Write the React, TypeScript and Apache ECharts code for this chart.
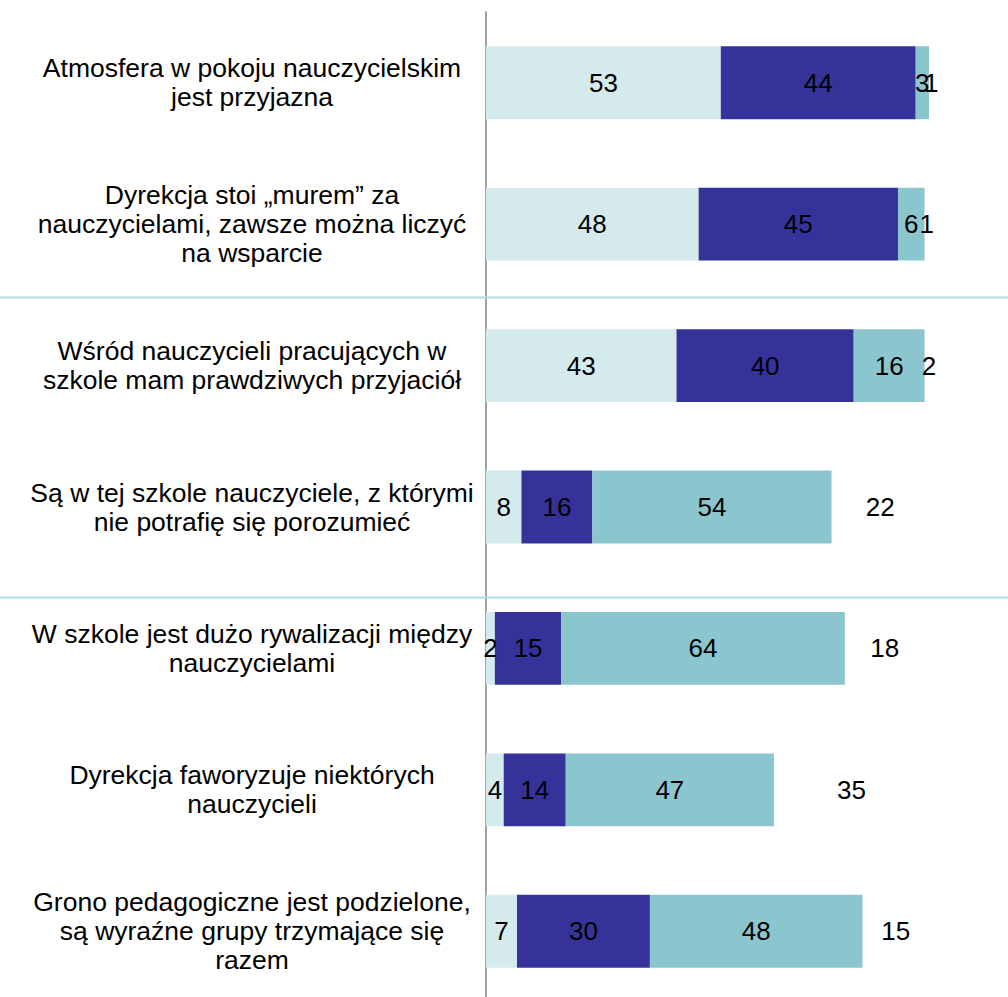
import React, { useEffect, useRef } from "react";
import * as echarts from "echarts";

const categories = [
  "Atmosfera w pokoju nauczycielskim\njest przyjazna",
  "Dyrekcja stoi „murem” za\nnauczycielami, zawsze można liczyć\nna wsparcie",
  "Wśród nauczycieli pracujących w\nszkole mam prawdziwych przyjaciół",
  "Są w tej szkole nauczyciele, z którymi\nnie potrafię się porozumieć",
  "W szkole jest dużo rywalizacji między\nnauczycielami",
  "Dyrekcja faworyzuje niektórych\nnauczycieli",
  "Grono pedagogiczne jest podzielone,\nsą wyraźne grupy trzymające się\nrazem",
];

const seriesNames = ["Zdecydowanie tak", "Raczej tak", "Raczej nie", "Zdecydowanie nie"];
const valuesA = [53, 48, 43, 8, 2, 4, 7];
const valuesB = [44, 45, 40, 16, 15, 14, 30];
const valuesC = [3, 6, 16, 54, 64, 47, 48];
const valuesD = [1, 1, 2, 22, 18, 35, 15];

const colors = ["#d5eaed", "#35339a", "#8bc6cf", "rgba(255,255,255,0)"];

const FONT = "'Liberation Sans', Arial, sans-serif";

export default function App() {
  const ref = useRef<HTMLDivElement>(null);

  useEffect(() => {
    if (!ref.current) return;
    const chart = echarts.init(ref.current, null, { renderer: "svg" });
    const data = [valuesA, valuesB, valuesC, valuesD];
    const option = {
      animation: false,
      backgroundColor: "#ffffff",
      grid: {
        left: 486,
        width: 443,
        top: 12,
        height: 990,
        containLabel: false,
        outerBoundsMode: "none",
      },
      xAxis: {
        type: "value",
        min: 0,
        max: 100,
        show: false,
        splitLine: { show: false },
      },
      yAxis: {
        type: "category",
        data: categories,
        inverse: true,
        axisTick: { show: false },
        axisLine: { show: true, lineStyle: { color: "#a3a3a3", width: 2 } },
        axisLabel: {
          align: "center",
          margin: 234,
          fontSize: 26.5,
          lineHeight: 29,
          color: "#000",
          fontFamily: FONT,
        },
        splitLine: { show: false },
      },
      graphic: [
        {
          type: "line",
          shape: { x1: 0, y1: 297.5, x2: 1008, y2: 297.5 },
          style: { stroke: "#b2dbe0", lineWidth: 2 },
          z: 10,
        },
        {
          type: "line",
          shape: { x1: 0, y1: 597.5, x2: 1008, y2: 597.5 },
          style: { stroke: "#b2dbe0", lineWidth: 2 },
          z: 10,
        },
      ],
      series: data.map((vals, i) => ({
        type: "bar",
        name: seriesNames[i],
        stack: "total",
        data: vals,
        barWidth: "51.5%",
        clip: false,
        itemStyle: { color: colors[i] },
        label: {
          show: true,
          position: "inside",
          color: "#000",
          fontSize: 26,
          fontFamily: FONT,
          formatter: "{c}",
        },
        emphasis: { disabled: true },
      })),
    };
    chart.setOption(option as any);
    return () => chart.dispose();
  }, []);

  return (
    <div
      ref={ref}
      style={{ position: "absolute", left: 0, top: 0, width: 1008, height: 997 }}
    />
  );
}
